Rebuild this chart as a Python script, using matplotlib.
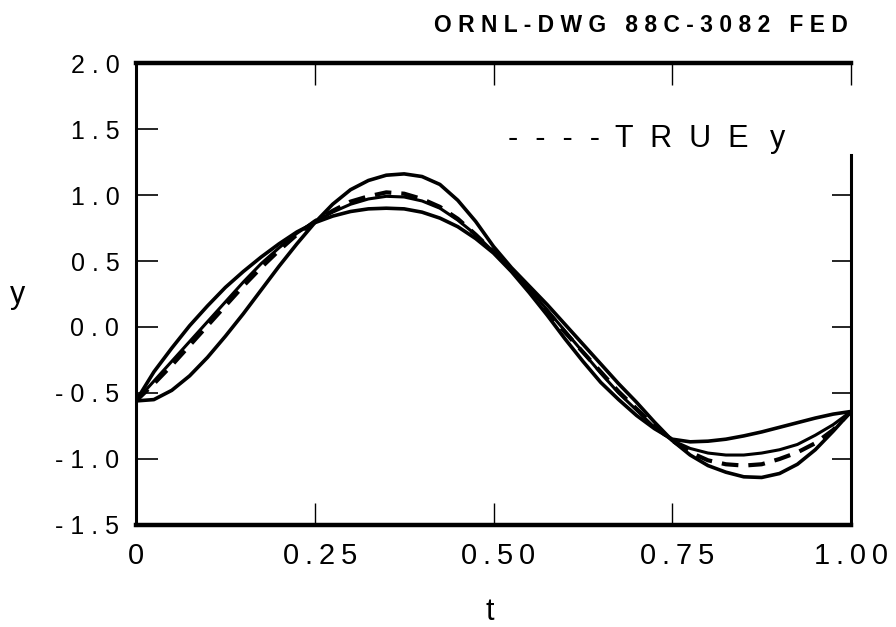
import matplotlib
matplotlib.use("Agg")
import matplotlib.pyplot as plt
import matplotlib.transforms as mtransforms

# ---------------- data ----------------
t = [0.000, 0.025, 0.050, 0.075, 0.100, 0.125, 0.150, 0.175, 0.200, 0.225,
     0.250, 0.275, 0.300, 0.325, 0.350, 0.375, 0.400, 0.425, 0.450, 0.475,
     0.500, 0.525, 0.550, 0.575, 0.600, 0.625, 0.650, 0.675, 0.700, 0.725,
     0.750, 0.775, 0.800, 0.825, 0.850, 0.875, 0.900, 0.925, 0.950, 0.975,
     1.000]

# true y (dashed)
y_true = [-0.56, -0.43, -0.29, -0.14, 0.01, 0.16, 0.31, 0.45, 0.58, 0.70,
          0.80, 0.88, 0.95, 0.99, 1.02, 1.01, 0.97, 0.91, 0.82, 0.70,
          0.57, 0.43, 0.28, 0.12, -0.04, -0.19, -0.34, -0.49, -0.62, -0.75,
          -0.86, -0.95, -1.01, -1.04, -1.05, -1.04, -1.00, -0.95, -0.88, -0.78,
          -0.64]

# approximation with the largest swing
y_large = [-0.56, -0.55, -0.48, -0.37, -0.23, -0.07, 0.10, 0.28, 0.46, 0.63,
           0.79, 0.93, 1.04, 1.11, 1.15, 1.16, 1.14, 1.08, 0.96, 0.80,
           0.61, 0.45, 0.31, 0.17, 0.02, -0.13, -0.28, -0.43, -0.57, -0.72,
           -0.86, -0.97, -1.05, -1.10, -1.135, -1.14, -1.11, -1.04, -0.93, -0.79,
           -0.64]

# approximation with the smallest swing
y_small = [-0.56, -0.34, -0.16, 0.01, 0.16, 0.30, 0.42, 0.53, 0.63, 0.72,
           0.79, 0.84, 0.875, 0.895, 0.90, 0.895, 0.87, 0.825, 0.76, 0.67,
           0.56, 0.42, 0.26, 0.09, -0.09, -0.26, -0.42, -0.55, -0.67, -0.77,
           -0.85, -0.87, -0.865, -0.85, -0.825, -0.795, -0.76, -0.725, -0.69, -0.66,
           -0.64]

# approximation closest to the true curve
y_close = [-0.56, -0.41, -0.26, -0.11, 0.04, 0.19, 0.34, 0.48, 0.60, 0.71,
           0.80, 0.87, 0.93, 0.97, 0.99, 0.985, 0.955, 0.90, 0.81, 0.70,
           0.57, 0.43, 0.29, 0.13, -0.03, -0.19, -0.35, -0.50, -0.63, -0.76,
           -0.86, -0.92, -0.955, -0.97, -0.97, -0.955, -0.93, -0.89, -0.82, -0.74,
           -0.64]

TS = "\u2009"  # thin space used for the wide letter spacing of the drawing
x_ticks = [0, 0.25, 0.50, 0.75, 1.00]
x_tick_labels = ["0", TS.join("0.25"), TS.join("0.50"), TS.join("0.75"), TS.join("1.00")]
y_ticks = [-1.5, -1.0, -0.5, 0.0, 0.5, 1.0, 1.5, 2.0]
y_tick_labels = ["- 1 . 5", "- 1 . 0", "- 0 . 5", "0 . 0", "0 . 5", "1 . 0", "1 . 5", "2 . 0"]
y_right_ticks = [-1.0, -0.5, 0.0, 0.5, 1.0]

title_text = "O R N L - D W G   8 8 C - 3 0 8 2   F E D"
legend_dashes = "-  -  -  -"
legend_word = "T  R  U  E"
legend_sym = "y"

# ---------------- figure ----------------
SANS = ["Liberation Sans", "DejaVu Sans"]

fig = plt.figure(figsize=(8.96, 6.27), dpi=100)
ax = fig.add_axes([0.1518, 0.1627, 0.7980, 0.7368])

ax.plot(t, y_large, color="black", lw=2.6, solid_capstyle="round", solid_joinstyle="round")
ax.plot(t, y_small, color="black", lw=2.6, solid_capstyle="round", solid_joinstyle="round")
ax.plot(t, y_close, color="black", lw=2.2, solid_capstyle="round", solid_joinstyle="round")
ax.plot(t, y_true, color="black", lw=3.0, dashes=(4, 2.4))

ax.set_xlim(0, 1)
ax.set_ylim(-1.5, 2.0)

# spines
ax.spines["top"].set_linewidth(3.2)
ax.spines["bottom"].set_linewidth(3.2)
ax.spines["left"].set_linewidth(2.2)
ax.spines["right"].set_visible(False)

# ticks
ax.set_xticks(x_ticks)
ax.set_xticklabels(x_tick_labels)
ax.set_yticks(y_ticks)
ax.set_yticklabels(y_tick_labels)
ax.tick_params(axis="x", direction="in", top=True, length=16, width=1.0, pad=12)
ax.tick_params(axis="y", direction="in", length=16, width=1.2, pad=12)
for lbl in ax.get_xticklabels():
    lbl.set_fontfamily(SANS)
    lbl.set_fontsize(21)
for lbl in ax.get_yticklabels():
    lbl.set_fontfamily(SANS)
    lbl.set_fontsize(18)
offset = mtransforms.ScaledTranslation(5 / 100, 0, fig.dpi_scale_trans)
for lbl in ax.get_xticklabels()[1:-1]:
    lbl.set_transform(lbl.get_transform() + offset)

# right axis: partial spine with inward ticks
sec = ax.secondary_yaxis("right")
sec.set_yticks(y_right_ticks)
sec.tick_params(direction="in", length=14, width=1.2, labelright=False)
sec.spines["right"].set_bounds(-1.5, 1.3)
sec.spines["right"].set_linewidth(2.2)

# legend-like annotation
ax.text(0.52, 1.364, legend_dashes, family=SANS, fontsize=22, ha="left", va="baseline")
ax.text(0.67, 1.364, legend_word, family=SANS, fontsize=22, ha="left", va="baseline")
ax.text(0.887, 1.364, legend_sym, family=SANS, fontsize=22, ha="left", va="baseline")

# axis labels
fig.text(18 / 896, 1 - 295 / 627, "y", family=SANS, fontsize=22, ha="center", va="center")
fig.text(490 / 896, 1 - 612 / 627, "t", family=SANS, fontsize=22, ha="center", va="center")

# drawing number
fig.text(848 / 896, 1 - 26 / 627, title_text, family=SANS, fontsize=16.5, fontweight="bold",
         ha="right", va="center")

fig.savefig("out.png", dpi=100)
